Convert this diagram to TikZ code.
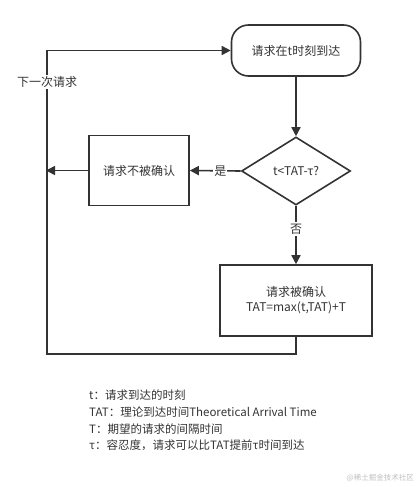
\documentclass[tikz,border=0pt]{standalone}
\usepackage{fontspec}
\setmainfont{Noto Sans CJK SC}
\usetikzlibrary{shapes.geometric,arrows.meta}
\definecolor{ln}{HTML}{333333}
\definecolor{tx}{HTML}{333333}
\tikzset{
  every node/.style={font=\fontsize{12}{15}\selectfont, text=tx},
  flow/.style={draw=ln, line width=1.6pt, -{Triangle[length=9pt,width=9pt]}},
  plain/.style={draw=ln, line width=1.6pt},
  boxnode/.style={draw=ln, line width=1.6pt, rectangle, inner sep=0pt, align=center},
}
\begin{document}
\begin{tikzpicture}[x=1pt,y=-1pt]
\useasboundingbox (0,0) rectangle (417,487);
\node[boxnode, rounded corners=17pt, minimum width=129pt, minimum height=51pt] (start) at (296,50.5) {请求在t时刻到达};
\node[boxnode, diamond, shape aspect=1.6, minimum width=109pt, minimum height=68pt] (dec) at (296,171) {t<TAT-τ?};
\node[boxnode, minimum width=100pt, minimum height=70pt] (rej) at (139,170.5) {请求不被确认};
\node[boxnode, minimum width=152pt, minimum height=71pt] (acc) at (296,300.5) {请求被确认\\TAT=max(t,TAT)+T};
\coordinate (lmid) at (46,170.5);
\coordinate (ltop) at (47,50.5);
\coordinate (lbot) at (47,354);
\coordinate (rbot) at (296,354);
\draw[flow] (start.south) -- (dec.north);
\draw[flow] (dec.west) -- node[fill=white, inner sep=1pt, pos=0.4] {是} (rej.east);
\draw[flow] (rej.west) -- (lmid);
\draw[flow] (dec.south) -- node[fill=white, inner sep=1.5pt, pos=0.4] {否} (acc.north);
\draw[plain] (acc.south) -- (rbot) -- (lbot) -- (ltop);
\draw[flow] (ltop) -- (start.west);
\node[fill=white, inner sep=1pt] (next) at (47,82) {下一次请求};
\node[anchor=north west, align=left, inner sep=0pt, font=\fontsize{11.5}{16.6}\selectfont] (legend) at (89,390)
  {t：请求到达的时刻\\TAT：理论到达时间Theoretical Arrival Time\\T：期望的请求的间隔时间\\τ：容忍度，请求可以比TAT提前τ时间到达};
\node[anchor=east, inner sep=0pt, font=\fontsize{7.5}{9}\selectfont, text=black!25] (wm) at (414,478) {@稀土掘金技术社区};
\end{tikzpicture}
\end{document}
